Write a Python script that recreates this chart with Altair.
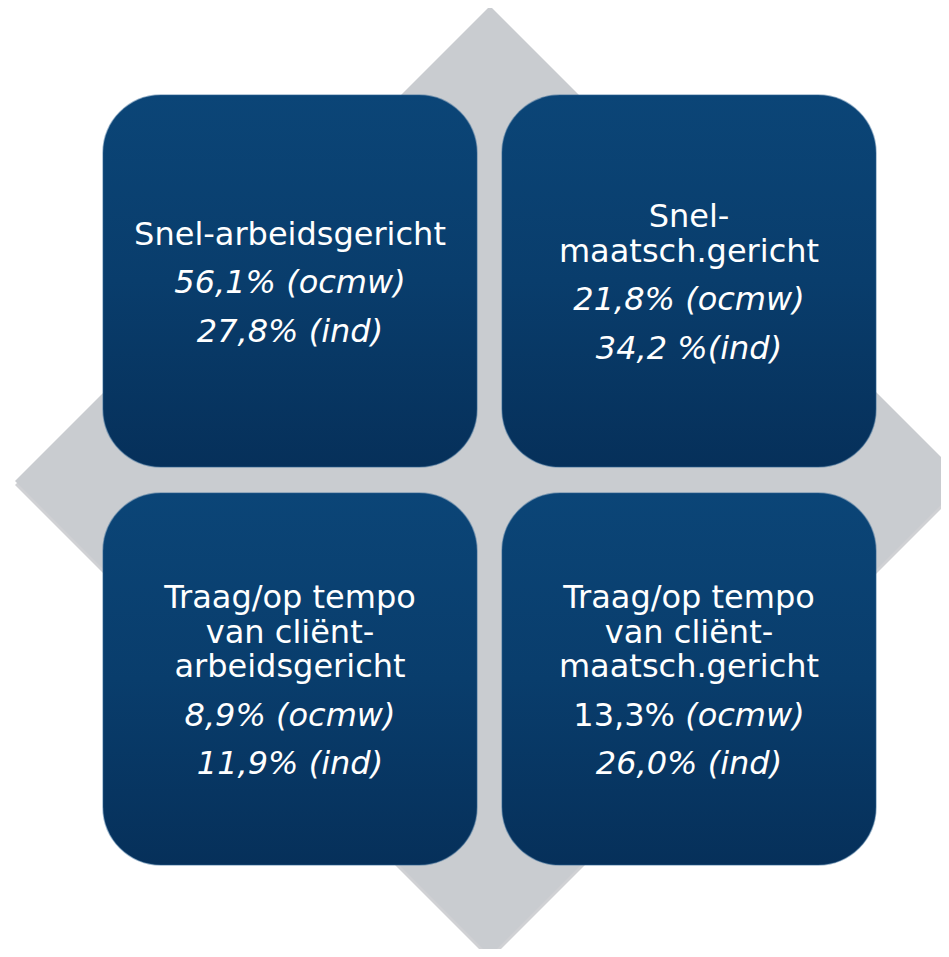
import altair as alt
import pandas as pd

# ---- content ----
headings = [
    ["Snel-arbeidsgericht"],
    ["Snel-", "maatsch.gericht"],
    ["Traag/op tempo", "van cliënt-", "arbeidsgericht"],
    ["Traag/op tempo", "van cliënt-", "maatsch.gericht"],
]
ocmw_values = ["56,1%", "21,8%", "8,9%", "13,3%"]
ind_labels = ["27,8% (ind)", "34,2 %(ind)", "11,9% (ind)", "26,0% (ind)"]
ocmw_value_upright = [False, False, False, True]

# ---- layout (pixel-like coordinate system of the page) ----
W, H = 933, 941
X0, Y0 = 8, 8
box_left = [103, 502]
box_top = [95, 493]
box_w, box_h = 374, 372
diamond_cx, diamond_cy, diamond_half = 490, 481, 475
FS = 32
HEAD_STEP = 34.5
VAL_STEP = 48.5

# DejaVu Sans advance widths (units/2048) for splitting a mixed-style line
adv = {**{d: 1303 for d in "0123456789"}, ",": 651, "%": 1946, " ": 651,
       "(": 799, ")": 799, "o": 1253, "c": 1126, "m": 1995, "w": 1675,
       "i": 569, "n": 1298, "d": 1300, ".": 651}


def tw(s):
    return sum(adv.get(ch, 1250) for ch in s) / 2048 * FS


boxes, texts = [], []
for i, heads in enumerate(headings):
    col, row = i % 2, i // 2
    x1, y1 = box_left[col], box_top[row]
    boxes.append(dict(x=x1, x2=x1 + box_w, y=y1, y2=y1 + box_h))
    cx, cy = x1 + box_w / 2, y1 + box_h / 2
    ocmw_line = ocmw_values[i] + " (ocmw)"
    lines = [(h, "head") for h in heads] + [(ocmw_line, "ocmw"), (ind_labels[i], "ind")]
    offs, o = [], 0.0
    for k, (_, kind) in enumerate(lines):
        if k > 0:
            o += HEAD_STEP if kind == "head" else VAL_STEP
        offs.append(o)
    start = cy - offs[-1] / 2 + 2
    for (txt, kind), off in zip(lines, offs):
        y = start + off
        if kind == "head":
            texts.append(dict(t=txt, x=cx, y=y, s="upright_c"))
        elif kind == "ocmw" and ocmw_value_upright[i]:
            a, b = ocmw_values[i], "(ocmw)"
            total = tw(a + " " + b)
            split = cx - total / 2 + tw(a)
            texts.append(dict(t=a, x=split, y=y, s="upright_r"))
            texts.append(dict(t=b, x=split + tw(" "), y=y, s="italic_l"))
        else:
            texts.append(dict(t=txt, x=cx, y=y, s="italic_c"))

box_df = pd.DataFrame(boxes)
text_df = pd.DataFrame(texts)
diamond_df = pd.DataFrame([dict(x=diamond_cx, y=diamond_cy)])

xs = alt.Scale(domain=[X0, X0 + W], nice=False, zero=False)
ys = alt.Scale(domain=[Y0, Y0 + H], nice=False, zero=False, reverse=True)

dsize = (2 * diamond_half) ** 2

diamond_shadow = alt.Chart(diamond_df).mark_point(
    shape="diamond", filled=True, size=dsize, color="#a9acb0", opacity=0.55,
    strokeWidth=0, yOffset=4, clip=True
).encode(x=alt.X("x:Q", scale=xs, axis=None), y=alt.Y("y:Q", scale=ys, axis=None))

diamond = alt.Chart(diamond_df).mark_point(
    shape="diamond", filled=True, size=dsize, color="#c9ccd0", opacity=1,
    strokeWidth=0, clip=True
).encode(x=alt.X("x:Q", scale=xs, axis=None), y=alt.Y("y:Q", scale=ys, axis=None))

box_enc = dict(
    x=alt.X("x:Q", scale=xs, axis=None), x2="x2:Q",
    y=alt.Y("y:Q", scale=ys, axis=None), y2="y2:Q",
)

box_shadow = alt.Chart(box_df).mark_rect(
    cornerRadius=58, color="#000000", opacity=0.25, xOffset=2, yOffset=4
).encode(**box_enc)

box_grad = alt.Gradient(
    gradient="linear",
    stops=[alt.GradientStop(color="#0b4577", offset=0),
           alt.GradientStop(color="#093d6c", offset=0.5),
           alt.GradientStop(color="#06305a", offset=1)],
    x1=0, x2=0, y1=0, y2=1,
)
box = alt.Chart(box_df).mark_rect(cornerRadius=58, color=box_grad).encode(**box_enc)

box_edge = alt.Chart(box_df).mark_rect(
    cornerRadius=58, filled=False, stroke="#2a5f8f", strokeWidth=1.5, strokeOpacity=0.45
).encode(**box_enc)

txt_enc = dict(
    x=alt.X("x:Q", scale=xs, axis=None),
    y=alt.Y("y:Q", scale=ys, axis=None),
    text="t:N",
)


def text_layer(style, align, font_style):
    return alt.Chart(text_df).transform_filter(
        alt.datum.s == style
    ).mark_text(
        font="DejaVu Sans", fontSize=FS, color="white", align=align,
        baseline="middle", fontStyle=font_style
    ).encode(**txt_enc)


chart = alt.layer(
    diamond_shadow, diamond, box_shadow, box, box_edge,
    text_layer("upright_c", "center", "normal"),
    text_layer("italic_c", "center", "italic"),
    text_layer("upright_r", "right", "normal"),
    text_layer("italic_l", "left", "italic"),
).properties(
    width=W, height=H, padding=0, autosize=alt.AutoSizeParams(type="none")
).configure_view(stroke=None)

chart.save("out.html", embed_options={"renderer": "svg", "actions": False})
